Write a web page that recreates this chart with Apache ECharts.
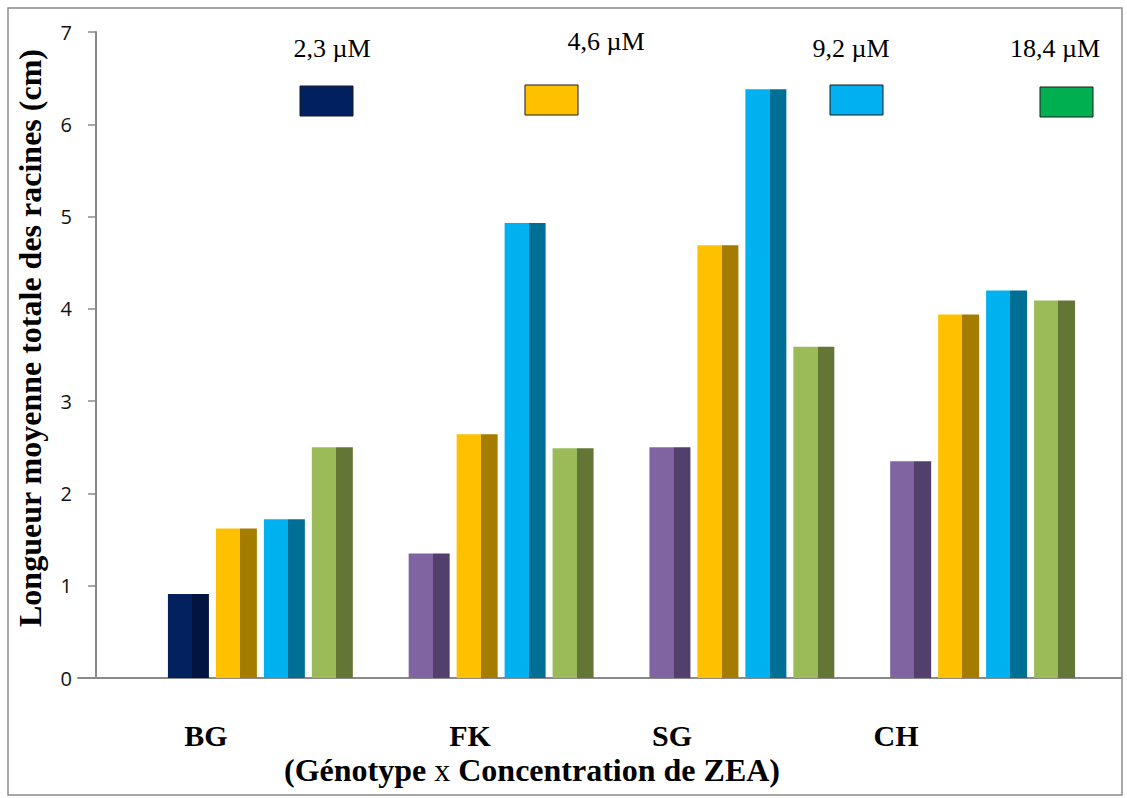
<!DOCTYPE html>
<html>
<head>
<meta charset="utf-8">
<script src="https://cdn.jsdelivr.net/npm/echarts@6/dist/echarts.min.js"></script>
<style>
html,body{margin:0;padding:0;background:#fff;}
#chart{width:1127px;height:798px;}
</style>
</head>
<body>
<div id="chart"></div>
<script>
// ---- data ----
const categories = ['BG', 'FK', 'SG', 'CH'];
const seriesNames = ['2,3 µM', '4,6 µM', '9,2 µM', '18,4 µM'];
const values_2_3 = [0.91, 1.35, 2.50, 2.35];
const values_4_6 = [1.62, 2.64, 4.69, 3.94];
const values_9_2 = [1.72, 4.93, 6.38, 4.20];
const values_18_4 = [2.50, 2.49, 3.59, 4.09];
const yTickLabels = ['0', '1', '2', '3', '4', '5', '6', '7'];
const yTitle = 'Longueur moyenne totale des racines (cm)';
const xTitleParts = ['(Génotype ', 'x', ' Concentration de ZEA)'];

// ---- styles ----
const serif = '"Liberation Serif", "Times New Roman", serif';
const sans = '"Open Sans", "Noto Sans", "Liberation Sans", sans-serif';
const barColors = [
  ['#8064A2', '#533F6B'],
  ['#FFC000', '#A47C00'],
  ['#00B1F0', '#006F96'],
  ['#9BBB59', '#647636']
];
const firstSpecial = ['#03205F', '#011540'];
const legendColors = ['#002060', '#FFC000', '#00B0F0', '#00B050'];

function split(c) {
  return {
    type: 'linear', x: 0, y: 0, x2: 1, y2: 0,
    colorStops: [
      {offset: 0, color: c[0]}, {offset: 0.59, color: c[0]},
      {offset: 0.59, color: c[1]}, {offset: 1, color: c[1]}
    ]
  };
}

const allValues = [values_2_3, values_4_6, values_9_2, values_18_4];

const series = allValues.map((vals, si) => ({
  name: seriesNames[si],
  type: 'bar',
  xAxisIndex: 0,
  yAxisIndex: 0,
  barWidth: 41,
  barGap: '17%',
  data: vals.map((v, ci) => ({
    value: v,
    itemStyle: {color: split(si === 0 && ci === 0 ? firstSpecial : barColors[si])}
  }))
}));

// legend (manual boxes with label above)
const legendPos = [
  {tx: 332, ty: 48, rx: 300, ry: 86},
  {tx: 606, ty: 41, rx: 525, ry: 85},
  {tx: 851, ty: 48, rx: 830, ry: 85},
  {tx: 1055, ty: 48, rx: 1040, ry: 87}
];
const graphics = [];
graphics.push({
  type: 'rect', shape: {x: 8, y: 8, width: 1114, height: 787},
  style: {fill: 'none', stroke: '#8c8c8c', lineWidth: 1.5}, silent: true, z: 0
});
seriesNames.forEach((n, i) => {
  const p = legendPos[i];
  graphics.push({
    type: 'text', x: p.tx, y: p.ty,
    style: {text: n, font: '26px ' + serif, fill: '#000', textAlign: 'center', textVerticalAlign: 'middle'}
  });
  graphics.push({
    type: 'rect', shape: {x: p.rx, y: p.ry, width: 53, height: 30},
    style: {fill: legendColors[i], stroke: '#1a1a1a', lineWidth: 1}
  });
});
// category labels (placed as in the reference text boxes)
const catLabelPos = [[206, 735], [470, 735], [672, 735], [896, 735]];
categories.forEach((c, i) => {
  graphics.push({
    type: 'text', x: catLabelPos[i][0], y: catLabelPos[i][1],
    style: {text: c, font: 'bold 30px ' + serif, fill: '#000', textAlign: 'center', textVerticalAlign: 'middle'}
  });
});
// x title
graphics.push({
  type: 'text', x: 532, y: 770,
  style: {
    text: '{b|' + xTitleParts[0] + '}{n|' + xTitleParts[1] + '}{b|' + xTitleParts[2] + '}',
    textAlign: 'center', textVerticalAlign: 'middle',
    rich: {
      b: {font: 'bold 32px ' + serif, fill: '#000'},
      n: {font: '32px ' + serif, fill: '#000'}
    }
  }
});

const chart = echarts.init(document.getElementById('chart'), null, {renderer: 'svg'});
chart.setOption({
  backgroundColor: '#fff',
  animation: false,
  grid: [
    {left: 140, right: 24, top: 32, bottom: 120},
    {left: 78, right: 6, top: 32, bottom: 120}
  ],
  xAxis: [
    {
      type: 'category', gridIndex: 0, data: categories,
      axisLine: {show: false}, axisTick: {show: false}, axisLabel: {show: false}
    },
    {
      type: 'category', gridIndex: 1, data: [''],
      axisLine: {show: true, lineStyle: {color: '#8a8a8a', width: 2}},
      axisTick: {show: false}, axisLabel: {show: false}
    }
  ],
  yAxis: [
    {
      type: 'value', gridIndex: 0, min: 0, max: 7, interval: 1, offset: 44,
      axisLine: {show: true, lineStyle: {color: '#8a8a8a', width: 2}},
      axisTick: {show: true, length: 8, lineStyle: {color: '#8a8a8a', width: 1.5}},
      splitLine: {show: false},
      axisLabel: {
        margin: 24, fontSize: 20, fontFamily: sans, color: '#111',
        formatter: v => yTickLabels[Math.round(v)]
      },
      name: yTitle, nameLocation: 'middle', nameGap: 50,
      nameTextStyle: {fontFamily: serif, fontWeight: 'bold', fontSize: 32, color: '#000', padding: [0, 0, 0, 34]}
    },
    {type: 'value', gridIndex: 1, min: 0, max: 7, show: false}
  ],
  series: series,
  graphic: graphics
});
</script>
</body>
</html>
